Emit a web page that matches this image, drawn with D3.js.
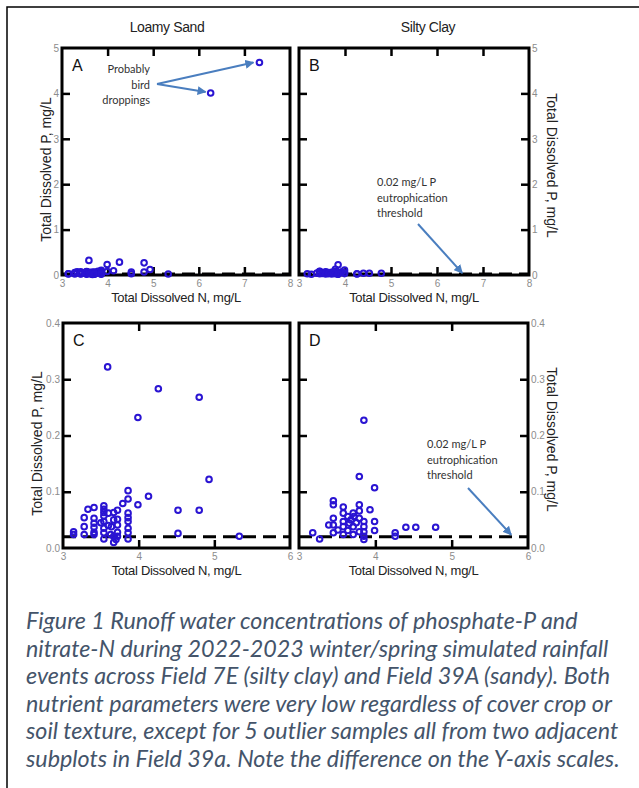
<!DOCTYPE html>
<html>
<head>
<meta charset="utf-8">
<script src="https://cdn.jsdelivr.net/npm/d3@7"></script>
<style>
  body { margin: 0; background: #fff; }
  svg { display: block; }
  .tlab text { fill: #8c8c8c; font: 10px "Liberation Sans", Arial, sans-serif; }
  .tlab path, .tlab line { display: none; }
  .tick-in path { display: none; }
  .tick-in line { stroke: #000; stroke-width: 2.5; }
</style>
</head>
<body>
<svg id="fig" width="639" height="788"></svg>
<script>
// Loamy Sand (Field 39A) – total dissolved N vs P, mg/L
var loamyN = [3.59, 4.26, 4.80, 3.99, 4.93, 3.86, 4.13, 3.86, 3.79, 3.99, 4.52, 4.80, 4.52, 5.33,
  3.14, 3.14, 3.28, 3.28, 3.28, 3.33, 3.41, 3.41, 3.41, 3.41, 3.41, 3.41,
  3.54, 3.54, 3.54, 3.54, 3.54, 3.54, 3.54, 3.54, 3.50,
  3.60, 3.60, 3.64, 3.67, 3.67, 3.67, 3.67, 3.63,
  3.72, 3.72, 3.72, 3.72, 3.72, 3.70,
  3.86, 3.86, 3.86, 3.86, 3.86, 3.86,
  6.26, 7.33];
var loamyP = [0.322, 0.283, 0.268, 0.232, 0.122, 0.102, 0.092, 0.087, 0.079, 0.077, 0.067, 0.067, 0.026, 0.021,
  0.029, 0.024, 0.024, 0.038, 0.054, 0.069, 0.072, 0.053, 0.044, 0.037, 0.028, 0.024,
  0.075, 0.069, 0.063, 0.057, 0.047, 0.035, 0.027, 0.016, 0.045,
  0.062, 0.040, 0.038, 0.063, 0.050, 0.021, 0.010, 0.024,
  0.067, 0.051, 0.041, 0.028, 0.021, 0.015,
  0.062, 0.054, 0.047, 0.035, 0.027, 0.016,
  4.01, 4.68];

// Silty Clay (Field 7E)
var siltyN = [3.85, 3.79, 3.99, 3.45, 3.45, 3.58, 3.58, 3.79, 3.79, 3.93, 3.71, 3.45, 3.45, 3.39,
  3.58, 3.64, 3.68, 3.72, 3.79, 3.85, 3.99, 3.99, 3.85, 3.71, 3.58, 3.51, 3.45, 3.58, 3.64,
  3.71, 3.79, 3.85, 3.85, 3.85, 3.18, 3.27, 4.26, 4.26, 4.40, 4.53, 4.79, 3.66, 3.75];
var siltyP = [0.227, 0.127, 0.107, 0.084, 0.077, 0.073, 0.062, 0.077, 0.066, 0.068, 0.062, 0.053, 0.041, 0.041,
  0.047, 0.056, 0.050, 0.056, 0.053, 0.047, 0.047, 0.031, 0.038, 0.038, 0.038, 0.032, 0.027, 0.024, 0.031,
  0.024, 0.029, 0.029, 0.021, 0.015, 0.027, 0.016, 0.027, 0.021, 0.037, 0.037, 0.037, 0.044, 0.045];

var threshold = 0.02;
var xTicksWide = [3, 4, 5, 6, 7, 8];
var xTicksNarrow = [3, 4, 5, 6];
var yTicksWide = [0, 1, 2, 3, 4, 5];
var yTicksNarrow = [0, 0.1, 0.2, 0.3, 0.4];
var soilTitles = ["Loamy Sand", "Silty Clay"];
var captionLines = [
  "Figure 1 Runoff water concentrations of phosphate-P and",
  "nitrate-N during 2022-2023 winter/spring simulated rainfall",
  "events across Field 7E (silty clay) and Field 39A (sandy). Both",
  "nutrient parameters were very low regardless of cover crop or",
  "soil texture, except for 5 outlier samples all from two adjacent",
  "subplots in Field 39a. Note the difference on the Y-axis scales."
];

var loamy = loamyN.map((n, i) => ({ n: n, p: loamyP[i] }));
var silty = siltyN.map((n, i) => ({ n: n, p: siltyP[i] }));

var svg = d3.select("#fig");
var ptColor = "#2a14d2",
  arrowColor = "#4a7ebf",
  sans = '"Liberation Sans", Arial, sans-serif',
  note = 'Lato, "Open Sans", sans-serif';

svg.append("rect").attr("width", 639).attr("height", 788).attr("fill", "#fff");
svg.append("rect")
  .attr("x", 7).attr("y", 7).attr("width", 700).attr("height", 800)
  .attr("fill", "none").attr("stroke", "#000").attr("stroke-width", 1.5);

svg.append("defs").append("marker")
  .attr("id", "arr")
  .attr("viewBox", "0 0 10 10")
  .attr("refX", 9).attr("refY", 5)
  .attr("markerWidth", 4.5).attr("markerHeight", 4.5)
  .attr("orient", "auto")
  .append("path").attr("d", "M0,0L10,5L0,10Z").attr("fill", arrowColor);

var panels = [
  { id: "A", data: loamy, box: [62, 290, 48, 275], xt: xTicksWide, yt: yTicksWide, side: "left" },
  { id: "B", data: silty, box: [299, 529, 48, 275], xt: xTicksWide, yt: yTicksWide, side: "right" },
  { id: "C", data: loamy, box: [63, 290, 323, 548], xt: xTicksNarrow, yt: yTicksNarrow, side: "left" },
  { id: "D", data: silty, box: [299, 528, 323, 548], xt: xTicksNarrow, yt: yTicksNarrow, side: "right" }
];

panels.forEach(function (pn) {
  var [x0, x1, y0, y1] = pn.box;
  var x = d3.scaleLinear().domain(d3.extent(pn.xt)).range([x0, x1]);
  var y = d3.scaleLinear().domain(d3.extent(pn.yt)).range([y1, y0]);
  pn.x = x; pn.y = y;
  var g = svg.append("g");
  var innerX = pn.xt.slice(1, -1), innerY = pn.yt.slice(1, -1);
  var yFmt = pn.yt[pn.yt.length - 1] < 1 ? d3.format(".1f") : d3.format("d");

  // threshold line
  g.append("line")
    .attr("x1", x(pn.xt[0])).attr("x2", x(pn.xt[pn.xt.length - 1]))
    .attr("y1", y(threshold)).attr("y2", y(threshold))
    .attr("stroke", "#000").attr("stroke-width", 3)
    .attr("stroke-dasharray", "13,7");

  // inward ticks on all four sides
  g.append("g").attr("class", "tick-in").attr("transform", `translate(0,${y1})`)
    .call(d3.axisBottom(x).tickValues(innerX).tickSize(-8).tickFormat(""));
  g.append("g").attr("class", "tick-in").attr("transform", `translate(0,${y0})`)
    .call(d3.axisTop(x).tickValues(innerX).tickSize(-8).tickFormat(""));
  g.append("g").attr("class", "tick-in").attr("transform", `translate(${x0},0)`)
    .call(d3.axisLeft(y).tickValues(innerY).tickSize(-8).tickFormat(""));
  g.append("g").attr("class", "tick-in").attr("transform", `translate(${x1},0)`)
    .call(d3.axisRight(y).tickValues(innerY).tickSize(-8).tickFormat(""));

  // tick labels
  g.append("g").attr("class", "tlab").attr("transform", `translate(0,${y1})`)
    .call(d3.axisBottom(x).tickValues(pn.xt).tickSize(0).tickPadding(5).tickFormat(d3.format("d")));
  if (pn.side === "left") {
    g.append("g").attr("class", "tlab").attr("transform", `translate(${x0 - 1},0)`)
      .call(d3.axisLeft(y).tickValues(pn.yt).tickSize(0).tickPadding(2).tickFormat(yFmt));
  } else {
    g.append("g").attr("class", "tlab").attr("transform", `translate(${x1 + 1},0)`)
      .call(d3.axisRight(y).tickValues(pn.yt).tickSize(0).tickPadding(2).tickFormat(yFmt));
  }

  // frame
  g.append("rect")
    .attr("x", x0).attr("y", y0).attr("width", x1 - x0).attr("height", y1 - y0)
    .attr("fill", "none").attr("stroke", "#000").attr("stroke-width", 3);

  // points
  g.selectAll("circle.pt")
    .data(pn.data.filter((d) => d.n <= x.domain()[1] && d.p <= y.domain()[1]))
    .join("circle")
    .attr("class", "pt")
    .attr("cx", (d) => x(d.n)).attr("cy", (d) => y(d.p))
    .attr("r", 2.8)
    .attr("fill", "none").attr("stroke", ptColor).attr("stroke-width", 2);

  // panel letter
  g.append("text")
    .attr("x", x0 + 10).attr("y", y0 + 23)
    .attr("font-family", sans).attr("font-size", 16).attr("fill", "#111")
    .text(pn.id);

  // axis titles
  g.append("text")
    .attr("x", (x0 + x1) / 2).attr("y", y1 + 27)
    .attr("text-anchor", "middle")
    .attr("font-family", sans).attr("font-size", 13).attr("letter-spacing", -0.3).attr("fill", "#222")
    .text("Total Dissolved N, mg/L");
  var tx = pn.side === "left" ? (pn.id === "A" ? 46 : 37) : 552;
  var ty = (y0 + y1) / 2 + (pn.id === "A" || pn.id === "C" ? 8 : 4);
  g.append("text")
    .attr("transform", `translate(${tx},${ty}) rotate(${pn.side === "left" ? -90 : 90})`)
    .attr("text-anchor", "middle").attr("dy", "0.35em")
    .attr("font-family", sans).attr("font-size", 14).attr("fill", "#222")
    .text("Total Dissolved P, mg/L");
});

// soil titles above top panels
svg.selectAll("text.soil")
  .data(soilTitles)
  .join("text")
  .attr("class", "soil")
  .attr("x", (d, i) => (i === 0 ? 167 : 428)).attr("y", 32)
  .attr("text-anchor", "middle")
  .attr("font-family", sans).attr("font-size", 14).attr("letter-spacing", -0.4).attr("fill", "#222")
  .text((d) => d);

// annotations
function noteText(x, y, lines, anchor) {
  var t = svg.append("text")
    .attr("font-family", note).attr("font-size", 11).attr("fill", "#333")
    .attr("text-anchor", anchor);
  lines.forEach((l, i) => t.append("tspan").attr("x", x).attr("y", y + i * 15.5).text(l));
}
function arrow(x1, y1, x2, y2) {
  svg.append("line")
    .attr("x1", x1).attr("y1", y1).attr("x2", x2).attr("y2", y2)
    .attr("stroke", arrowColor).attr("stroke-width", 2)
    .attr("marker-end", "url(#arr)");
}

var pA = panels[0], pB = panels[1], pD = panels[3];
noteText(150, 73, ["Probably", "bird", "droppings"], "end");
arrow(157, 84, pA.x(7.33) - 6, pA.y(4.68));
arrow(157, 84, pA.x(6.26) - 5, pA.y(4.01) - 1);

noteText(377, 186, ["0.02 mg/L P", "eutrophication", "threshold"], "start");
arrow(418, 224, pB.x(6.55), pB.y(threshold) - 1);

noteText(427, 448, ["0.02 mg/L P", "eutrophication", "threshold"], "start");
arrow(468, 488, pD.x(5.78), pD.y(threshold) - 2);

// caption
var cap = svg.append("g")
  .attr("font-family", note).attr("font-style", "italic")
  .attr("fill", "#44546a").attr("font-size", 20);
var capText = cap.selectAll("text")
  .data(captionLines)
  .join("text")
  .attr("x", 26)
  .attr("y", (d, i) => 629 + i * 27.5)
  .text((d) => d);
var widest = d3.max(capText.nodes(), (n) => n.getComputedTextLength());
cap.attr("font-size", 20 * 594 / widest);
</script>
</body>
</html>
